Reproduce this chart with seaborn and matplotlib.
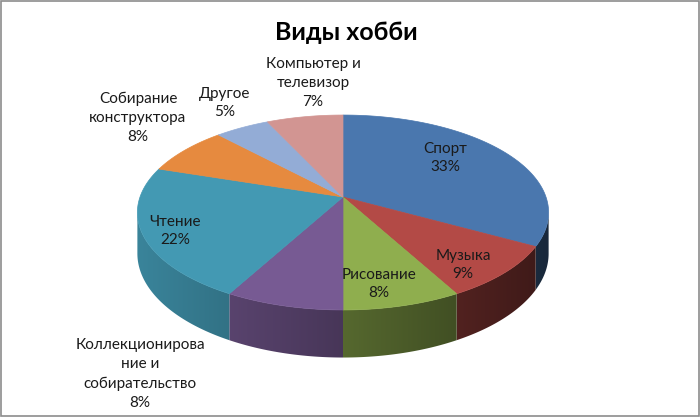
import numpy as np
import matplotlib.pyplot as plt
from matplotlib.patches import Polygon, Rectangle
from matplotlib.colors import to_rgb
import seaborn as sns

# Data for the pie (clockwise from 12 o'clock)
categories = ['Спорт', 'Музыка', 'Рисование', 'Коллекционирова\nние и\nсобирательство',
              'Чтение', 'Собирание\nконструктора', 'Другое', 'Компьютер и\nтелевизор']
shares = [33, 9, 8, 8, 22, 8, 5, 7]
top_colors = ['#4A77AE', '#B34A46', '#8FAE4E', '#775A93',
              '#4399B3', '#E68A3F', '#93ACD6', '#D29592']
title = 'Виды хобби'

sns.set_theme(style='white')
plt.rcParams['font.family'] = ['Lato', 'DejaVu Sans']

# Geometry of the tilted disc (pixel units, y down)
cx, cy = 343, 197
R, Ry = 203, 95
persp = 0.159
depth = 40


def proj(t, r=1.0, dz=0.0):
    u, v = r * np.cos(t), r * np.sin(t)
    k = 1.0 / (1.0 + persp * v)
    return cx + R * u * k, cy - Ry * v * k + dz * k


fig = plt.figure(figsize=(7, 4.17), dpi=100)
ax = fig.add_axes([0, 0, 1, 1])
ax.set_xlim(0, 700)
ax.set_ylim(417, 0)
ax.axis('off')

pal = sns.color_palette(top_colors)
total = float(sum(shares))
bounds = 90 - 360 * np.concatenate([[0], np.cumsum(shares)]) / total

# visible side wall range
t_lo = np.degrees(np.pi + np.arcsin(persp)) - 360
t_hi = -np.degrees(np.arcsin(persp))

# side walls: one polygon per slice filled with a left-to-right shading gradient
for i, col in enumerate(pal):
    a0, a1 = bounds[i + 1], bounds[i]
    lo, hi = max(a0, t_lo), min(a1, t_hi)
    if lo >= hi:
        continue
    ts = np.radians(np.linspace(lo, hi, 120))
    top = [proj(t) for t in ts]
    bot = [proj(t, dz=depth) for t in ts[::-1]]
    wall = Polygon(top + bot, closed=True, facecolor='none', edgecolor='none')
    ax.add_patch(wall)
    xs = np.array([p[0] for p in top + bot])
    ys = np.array([p[1] for p in top + bot])
    x0, x1 = xs.min() - 2, xs.max() + 2
    y0, y1 = ys.min() - 2, ys.max() + 2
    gx = np.linspace(x0, x1, 200)
    u = np.clip((gx - cx) / R, -1, 1)
    shade = 0.6 - 0.26 * u
    img = np.clip(np.array(to_rgb(col))[None, None, :] * shade[None, :, None], 0, 1)
    img = np.repeat(img, 2, axis=0)
    im = ax.imshow(img, extent=(x0, x1, y1, y0), aspect='auto',
                   interpolation='bilinear', zorder=1)
    im.set_clip_path(wall)

ax.set_xlim(0, 700)
ax.set_ylim(417, 0)

# top faces
for i, col in enumerate(pal):
    ts = np.radians(np.linspace(bounds[i], bounds[i + 1], 80))
    pts = [(cx, cy)] + [proj(t) for t in ts]
    ax.add_patch(Polygon(pts, closed=True, facecolor=col, edgecolor=col,
                         lw=0.5, zorder=2))

# labels
label_pos = [(445, 158), (463, 265), (379, 284), (140, 374),
             (175, 231), (138, 118), (225, 103), (313, 83)]
for name, val, (lx, ly) in zip(categories, shares, label_pos):
    ax.text(lx, ly, f'{name}\n{val}%', ha='center', va='center',
            fontsize=11, color='#1A1A1A', linespacing=1.45, zorder=5)

ax.text(346, 32, title, ha='center', va='center', fontsize=18,
        fontweight='bold', color='black')

fig.patches.append(Rectangle((0.001, 0.002), 0.997, 0.995, transform=fig.transFigure,
                             fill=False, edgecolor='#8C8C8C', lw=1.2))

fig.savefig('out.png', dpi=100)
